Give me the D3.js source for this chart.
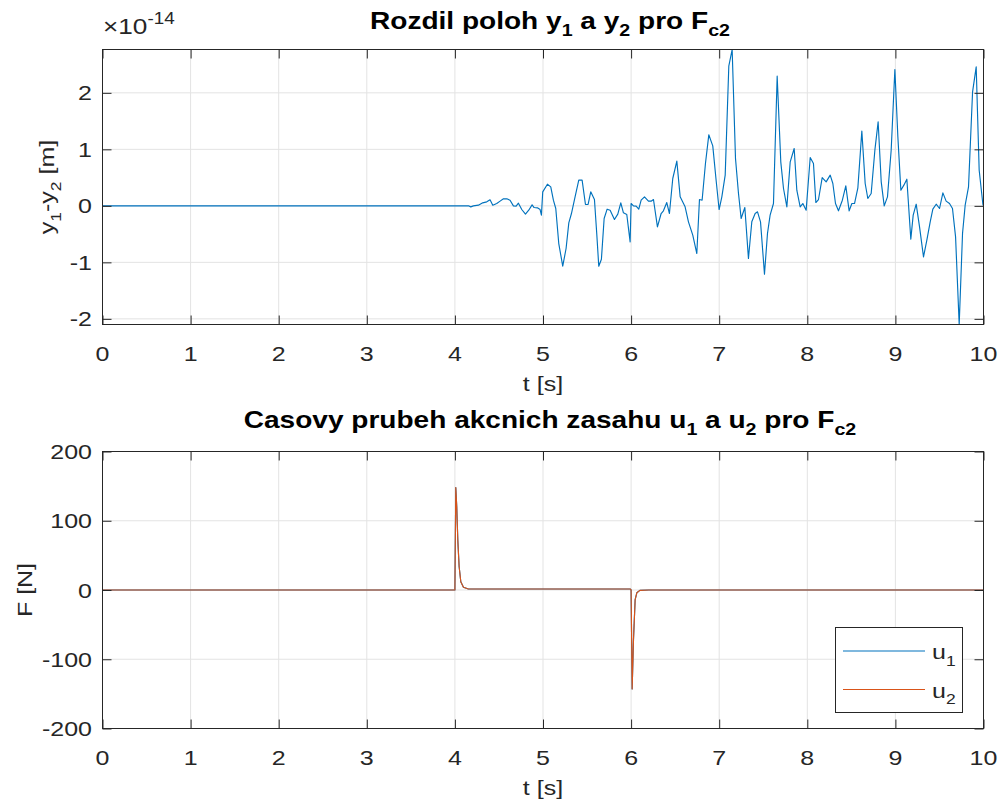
<!DOCTYPE html>
<html lang="cs">
<head>
<meta charset="UTF-8">
<title>Rozdil poloh</title>
<script src="https://d3js.org/d3.v7.min.js"></script>
<style>
  body { margin: 0; background: #fff; }
  text { font-family: "Liberation Sans", Arial, Helvetica, sans-serif; }
</style>
</head>
<body>
<script>
// --- data ---
// upper plot: time [s] and y1-y2 in units of 1e-14 m
let diffT = [0, 4.059, 4.154, 4.180, 4.210, 4.267, 4.316, 4.362, 4.399, 4.430, 4.475, 4.513, 4.551, 4.589, 4.626, 4.664, 4.695, 4.721, 4.759, 4.801, 4.838, 4.876, 4.899, 4.937, 4.967, 4.982,
  4.997, 5.050, 5.088, 5.118, 5.145, 5.179, 5.224, 5.262, 5.293, 5.323, 5.364, 5.406, 5.444, 5.482, 5.512, 5.542, 5.584, 5.610, 5.633, 5.663, 5.694, 5.728, 5.762, 5.811, 5.849, 5.883, 5.913, 5.951, 5.989,
  6.000, 6.027, 6.057, 6.087, 6.114, 6.152, 6.197, 6.227, 6.254, 6.299, 6.341, 6.367, 6.405, 6.435, 6.473, 6.519, 6.557, 6.613, 6.651, 6.700, 6.746, 6.776, 6.806, 6.844, 6.882, 6.927, 6.965,
  6.999, 7.030, 7.068, 7.109, 7.147, 7.185, 7.219, 7.249, 7.291, 7.332, 7.370, 7.408, 7.435, 7.469, 7.514, 7.548, 7.578, 7.616, 7.658, 7.699, 7.730, 7.768, 7.806, 7.851, 7.881, 7.919, 7.949, 7.987,
  8.033, 8.070, 8.097, 8.127, 8.169, 8.214, 8.260, 8.290, 8.320, 8.354, 8.398, 8.437, 8.475, 8.506, 8.536, 8.574, 8.619, 8.657, 8.687, 8.725, 8.767, 8.804, 8.839, 8.873, 8.910, 8.952,
  8.994, 9.028, 9.062, 9.096, 9.130, 9.175, 9.202, 9.236, 9.274, 9.319, 9.357, 9.395, 9.425, 9.463, 9.501, 9.539, 9.576, 9.614, 9.648, 9.683, 9.724, 9.762, 9.792, 9.830, 9.876, 9.917, 9.951, 9.993, 10];
let diffY = [0, 0, 0, -0.018, 0, 0.012, 0.053, 0.071, 0.106, 0.012, 0.041, 0.083, 0.124, 0.124, 0.100, 0, -0.006, 0.047, -0.065, -0.147, -0.077, 0.018, -0.030, -0.035, -0.065, -0.165,
  0.248, 0.383, 0.336, 0.100, -0.047, -0.667, -1.068, -0.755, -0.301, -0.136, 0.159, 0.454, 0.454, 0.024, 0.024, 0.248, 0.112, -0.490, -1.068, -0.944, -0.224, -0.059, -0.077, -0.242, -0.147, 0.053, -0.124, -0.153, -0.637,
  0.041, 0, -0.006, -0.059, 0.100, 0.159, 0.083, 0.083, 0.112, -0.372, -0.136, -0.088, 0.059, -0.136, 0.484, 0.791, 0.159, -0.018, -0.283, -0.519, -0.844, 0.112, 0.100, 0.749, 1.257, 1.062, 0.454,
  -0.065, 0.159, 0.543, 2.472, 2.767, 0.838, 0.218, -0.224, -0.030, -0.932, -0.283, -0.136, -0.106, -0.283, -1.209, -0.490, -0.165, 0.041, 2.295, 0.779, 0.307, -0.018, 0.779, 1.015, 0.277, -0.018, 0.041, -0.077,
  0.855, 0.749, 0.059, 0.112, 0.501, 0.425, 0.543, 0.395, 0.041, -0.088, 0.100, 0.354, -0.088, 0.041, 0.041, 0.319, 1.322, 0.395, 0.130, 0.218, 0.985, 1.487, 0.425, 0, 0.159, 0.985,
  2.413, 1.221, 0.277, 0.366, 0.472, -0.590, -0.165, 0.029, -0.372, -0.903, -0.608, -0.283, -0.059, 0.029, -0.047, 0.230, 0.083, 0.041, -0.047, -0.549, -2.100, -0.490, 0.012, 0.336, 2.018, 2.460, 0.631, 0.029, 0];

// lower plot: time [s] and control forces u1, u2 [N]
let forceT = [0, 4.0, 4.010, 4.021, 4.033, 4.048, 4.067, 4.097, 4.153, 5.0, 5.989, 6.0, 6.012, 6.027, 6.046, 6.065, 6.1, 6.2, 10];
let u1 = [0, 0, 148, 120, 72, 34, 12, 4, 1.4, 1.5, 1.5, 0, -143, -72, -14, -4, -0.5, 0, 0];
let u2 = [0, 0, 148, 120, 72, 34, 12, 4, 1.4, 1.5, 1.5, 0, -143, -72, -14, -4, -0.5, 0, 0];

let xTicks = [0, 1, 2, 3, 4, 5, 6, 7, 8, 9, 10];
let forceDomain = [-200, 200];

const w = 998, h = 802;
const blue = "#0072BD", orange = "#D95319", axisCol = "#262626", gridCol = "#e3e3e3";
const sx = 1.19;   // glyphs in the picture are wider than Liberation Sans

const svg = d3.select("body").append("svg").attr("width", w).attr("height", h);
svg.append("rect").attr("width", w).attr("height", h).attr("fill", "#fff");

// text helper: parts = [[string, sub]] with sub 1 = subscript, -1 = superscript
function label(x, y, parts, opts) {
  opts = opts || {};
  let size = opts.size || 21;
  let tr = `translate(${x},${y})` + (opts.rotate ? ` rotate(${opts.rotate})` : "") + ` scale(${opts.sx || sx},1)`;
  let t = svg.append("text").attr("transform", tr)
    .attr("text-anchor", opts.anchor || "middle")
    .attr("font-size", size)
    .attr("font-weight", opts.bold ? "bold" : null)
    .attr("fill", opts.color || axisCol);
  let down = false;
  parts.forEach(p => {
    let [s, sub] = typeof p === "string" ? [p, 0] : p;
    let ts = t.append("tspan").text(s);
    if (sub === 1) { ts.attr("font-size", size * 0.7).attr("dy", down ? 0 : size * 0.33); down = true; }
    else if (sub === -1) { ts.attr("font-size", size * 0.72).attr("dy", -size * 0.45); }
    else if (down) { ts.attr("dy", -size * 0.33); down = false; }
  });
  return t;
}

const x = d3.scaleLinear().domain([0, 10]).range([102.5, 983.5]);

function panel(top, bottom, y, yTicks, series, id) {
  let gGrid = svg.append("g");
  xTicks.forEach(v => gGrid.append("line").attr("x1", x(v)).attr("x2", x(v)).attr("y1", top).attr("y2", bottom)
    .attr("stroke", gridCol).attr("stroke-width", 1));
  yTicks.forEach(v => gGrid.append("line").attr("x1", x.range()[0]).attr("x2", x.range()[1]).attr("y1", y(v)).attr("y2", y(v))
    .attr("stroke", gridCol).attr("stroke-width", 1));

  svg.append("clipPath").attr("id", id).append("rect")
    .attr("x", x.range()[0]).attr("y", top).attr("width", x.range()[1] - x.range()[0]).attr("height", bottom - top);
  let gLines = svg.append("g").attr("clip-path", `url(#${id})`);
  series.forEach(s => {
    let line = d3.line().x((d, i) => x(s.t[i])).y(d => y(d));
    gLines.append("path").datum(s.v).attr("d", line)
      .attr("fill", "none").attr("stroke", s.color).attr("stroke-width", 1.15).attr("stroke-linejoin", "round");
  });

  // ticks on all four sides, pointing inwards
  let ax = [
    [d3.axisBottom(x).tickValues(xTicks), `translate(0,${bottom})`],
    [d3.axisTop(x).tickValues(xTicks), `translate(0,${top})`],
    [d3.axisLeft(y).tickValues(yTicks), `translate(${x.range()[0]},0)`],
    [d3.axisRight(y).tickValues(yTicks), `translate(${x.range()[1]},0)`]
  ];
  ax.forEach(([a, tr]) => {
    let g = svg.append("g").attr("transform", tr).call(a.tickSize(-9).tickSizeOuter(0).tickFormat(""));
    g.select(".domain").remove();
    g.selectAll(".tick line").attr("stroke", axisCol);
  });
  svg.append("rect").attr("x", x.range()[0]).attr("y", top)
    .attr("width", x.range()[1] - x.range()[0]).attr("height", bottom - top)
    .attr("fill", "none").attr("stroke", axisCol).attr("stroke-width", 1);

  xTicks.forEach(v => label(x(v), bottom + 36, [String(v)]));
  yTicks.forEach(v => label(92, y(v) + 7.5, [String(v)], { anchor: "end" }));
  label(x(5), bottom + 66, ["t [s]"]);
}

// upper panel
const yDiff = d3.scaleLinear().domain(d3.extent(diffY)).range([324.5, 49.5]);
panel(49.5, 324.5, yDiff, [-2, -1, 0, 1, 2], [{ t: diffT, v: diffY, color: blue }], "clipTop");
label(103, 33.5, ["\u00d710", ["-14", -1]], { anchor: "start", size: 22 });
label(550, 28.5, ["Rozdil poloh y", ["1", 1], " a y", ["2", 1], " pro F", ["c2", 1]], { bold: true, size: 23, sx: 1.22, color: "#000" });
label(54, 187, ["y", ["1", 1], "-y", ["2", 1], " [m]"], { rotate: -90 });

// lower panel
const yForce = d3.scaleLinear().domain(forceDomain).range([728.5, 451.5]);
panel(451.5, 728.5, yForce, yForce.ticks(5), [
  { t: forceT, v: u1, color: blue },
  { t: forceT, v: u2, color: orange }
], "clipBottom");
label(550, 427.5, ["Casovy prubeh akcnich zasahu u", ["1", 1], " a u", ["2", 1], " pro F", ["c2", 1]], { bold: true, size: 23, sx: 1.22, color: "#000" });
label(32, 590, ["F [N]"], { rotate: -90 });

// legend
const lg = svg.append("g");
lg.append("rect").attr("x", 835.5).attr("y", 627.5).attr("width", 127).attr("height", 85)
  .attr("fill", "#fff").attr("stroke", axisCol).attr("stroke-width", 1);
[["1", blue, 651], ["2", orange, 689.5]].forEach(([n, c, yy]) => {
  lg.append("line").attr("x1", 843).attr("x2", 925).attr("y1", yy).attr("y2", yy).attr("stroke", c).attr("stroke-width", 1.15);
  label(932, yy + 8, ["u", [n, 1]], { anchor: "start" });
});
</script>
</body>
</html>
